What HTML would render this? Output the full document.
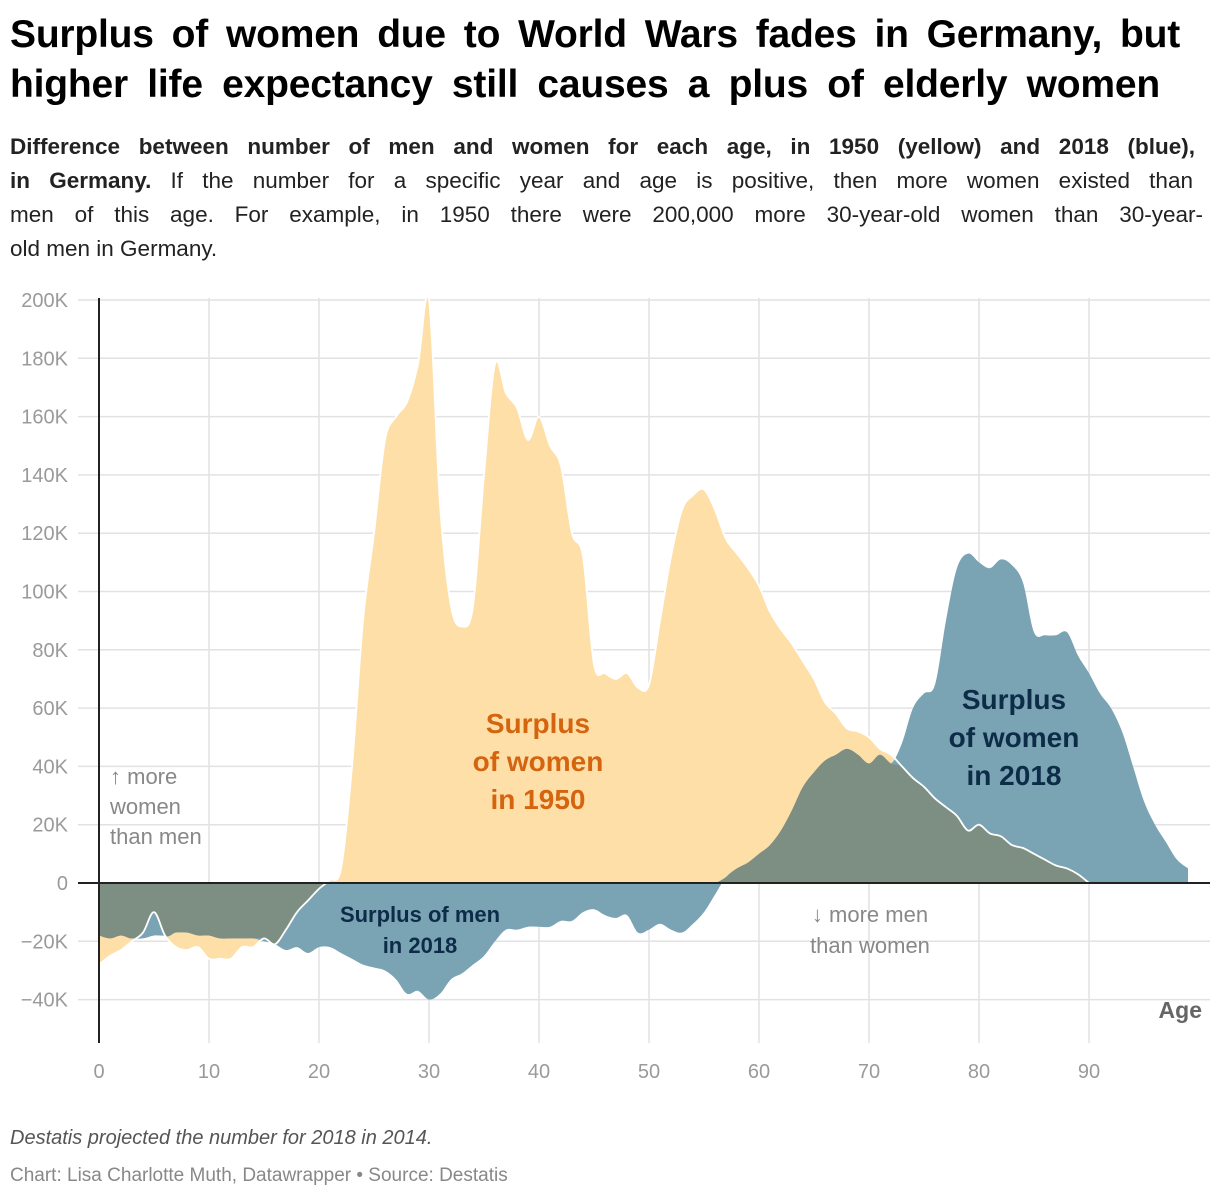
<!DOCTYPE html>
<html><head><meta charset="utf-8">
<style>
body{margin:0;background:#fff;font-family:"Liberation Sans",sans-serif;}
#wrap{position:relative;width:1220px;height:1198px;overflow:hidden;}
h1{position:absolute;left:10px;top:10px;margin:0;font-size:39px;line-height:50px;font-weight:bold;color:#000;letter-spacing:-0.2px}
h1 span{display:block;text-align:justify;text-align-last:justify;}
.sub{position:absolute;left:10px;top:130px;font-size:22.5px;line-height:34px;color:#222;}
.sub span{display:block;text-align:justify;text-align-last:justify;white-space:nowrap}
.foot1{position:absolute;left:10px;top:1127px;font-size:20px;font-style:italic;color:#555;}
.foot2{position:absolute;left:10px;top:1165px;font-size:19px;color:#888;}
</style></head><body>
<div id="wrap">
<h1><span style="width:1170px">Surplus of women due to World Wars fades in Germany, but</span><span style="width:1150px">higher life expectancy still causes a plus of elderly women</span></h1>
<div class="sub"><span style="width:1185px"><b>Difference between number of men and women for each age, in 1950 (yellow) and 2018 (blue),</b></span><span style="width:1183px"><b>in Germany.</b> If the number for a specific year and age is positive, then more women existed than</span><span style="width:1193px">men of this age. For example, in 1950 there were 200,000 more 30-year-old women than 30-year-</span><span style="text-align:left;text-align-last:left">old men in Germany.</span></div>
<svg id="chart" width="1220" height="1198" style="position:absolute;left:0;top:0"></svg>
<div class="foot1">Destatis projected the number for 2018 in 2014.</div>
<div class="foot2">Chart: Lisa Charlotte Muth, Datawrapper • Source: Destatis</div>
</div>
<script>
const yTicks=[200,180,160,140,120,100,80,60,40,20,0,-20,-40];
const xTicks=[0,10,20,30,40,50,60,70,80,90];
const ages1950=[];for(let i=0;i<=90;i++)ages1950.push(i);
const values1950=[-28,-25,-23,-20,-17,-10,-18,-22,-23,-22,-26,-26,-26,-22,-22,-19,-21,-16,-10,-6,-2,1,5,40,90,120,152,160,165,178,200,130,95,88,95,140,178,168,163,152,160,150,143,120,112,75,72,70,72,67,68,90,112,128,133,135,128,118,113,108,102,93,87,82,76,70,62,58,53,52,50,46,44,40,36,33,29,26,23,18,20,17,16,13,12,10,8,6,5,3,0];
const ages2018=[];for(let i=0;i<=99;i++)ages2018.push(i);
const values2018=[-18,-19,-18,-19,-19,-18,-18,-17,-17,-18,-18,-19,-19,-19,-19,-20,-21,-23,-22,-24,-22,-22,-24,-26,-28,-29,-30,-33,-38,-37,-40,-38,-33,-31,-28,-25,-20,-16,-16,-15,-15,-15,-13,-13,-10,-9,-11,-12,-11,-17,-16,-14,-16,-17,-14,-10,-4,2,5,7,10,13,18,25,33,38,42,44,46,44,41,44,41,48,60,65,68,90,108,113,110,108,111,109,103,86,85,85,86,78,72,65,60,52,40,28,20,14,8,5];
const X=a=>99+a*11, Y=v=>883-v*2.915;
const NS="http://www.w3.org/2000/svg", svg=document.getElementById('chart');
function mk(t,at){const e=document.createElementNS(NS,t);for(const k in at)e.setAttribute(k,at[k]);svg.appendChild(e);return e;}
function curve(pts){let d="M"+pts[0][0]+","+pts[0][1];for(let i=0;i<pts.length-1;i++){const p0=pts[i-1]||pts[i],p1=pts[i],p2=pts[i+1],p3=pts[i+2]||p2;const t=6;d+=" C"+(p1[0]+(p2[0]-p0[0])/t)+","+(p1[1]+(p2[1]-p0[1])/t)+" "+(p2[0]-(p3[0]-p1[0])/t)+","+(p2[1]-(p3[1]-p1[1])/t)+" "+p2[0]+","+p2[1];}return d;}
function area(ages,vals){const pts=ages.map((a,i)=>[X(a),Y(vals[i])]);return curve(pts)+" L"+X(ages[ages.length-1])+","+Y(0)+" L"+X(ages[0])+","+Y(0)+"Z";}
yTicks.forEach(v=>{const g=mk('line',{x1:78,x2:1210,y1:Y(v),y2:Y(v),stroke:'#e2e2e2','stroke-width':1.5});
const t=mk('text',{x:68,y:Y(v)+7,'text-anchor':'end','font-size':20,fill:'#9a9a9a'});t.textContent=(v<0?'\u2212'+(-v):v)+(v!==0?'K':'');});
xTicks.forEach(a=>{if(a>0){const g=mk('line',{x1:X(a),x2:X(a),y1:298,y2:1043,stroke:'#e2e2e2','stroke-width':1.5});}
const t=mk('text',{x:X(a),y:1078,'text-anchor':'middle','font-size':20,fill:'#9a9a9a'});t.textContent=a;});
const yA=mk('path',{d:area(ages1950,values1950),fill:'#fedfa8'});
const bA=mk('path',{d:area(ages2018,values2018),fill:'#7aa3b4'});
const ov=ages1950.map((a,i)=>{const p=values1950[i],q=values2018[i];if(p*q<=0)return 0;return p>0?Math.min(p,q):Math.max(p,q);});
const oA=mk('path',{d:area(ages1950,ov),fill:'#7d8f83'});
const wl=mk('path',{d:curve(ages1950.map((a,i)=>[X(a),Y(values1950[i])])),fill:'none',stroke:'#fff','stroke-width':1.8});
const za=mk('line',{x1:78,x2:1210,y1:Y(0),y2:Y(0),stroke:'#222','stroke-width':2});
const ya=mk('line',{x1:99,x2:99,y1:298,y2:1043,stroke:'#222','stroke-width':2});
function lab(lines,x,y,size,fill,w,name,lh){const t=mk('text',{x:x,y:y,'text-anchor':'middle','font-size':size,fill:fill,'font-weight':w});lines.forEach((l,i)=>{const s=document.createElementNS(NS,'tspan');s.setAttribute('x',x);s.setAttribute('dy',i?lh:0);s.textContent=l;t.appendChild(s);});return t;}
lab(['Surplus','of women','in 1950'],538,733,28,'#d5640f','bold','label-1950',38);
lab(['Surplus','of women','in 2018'],1014,709,28,'#0c2c47','bold','label-2018-women',38);
lab(['Surplus of men','in 2018'],420,922,22,'#0c2c47','bold','label-2018-men',31);
const m=mk('text',{x:110,y:784,'font-size':22,fill:'#888'});
['\u2191 more','women','than men'].forEach((l,i)=>{const s=document.createElementNS(NS,'tspan');s.setAttribute('x',110);s.setAttribute('dy',i?30:0);s.textContent=l;m.appendChild(s);});
lab(['\u2193 more men','than women'],870,922,22,'#888','normal','annotation-more-men',31);
const ag=mk('text',{x:1202,y:1018,'text-anchor':'end','font-size':23,'font-weight':'bold',fill:'#666'});ag.textContent='Age';
</script>
</body></html>
